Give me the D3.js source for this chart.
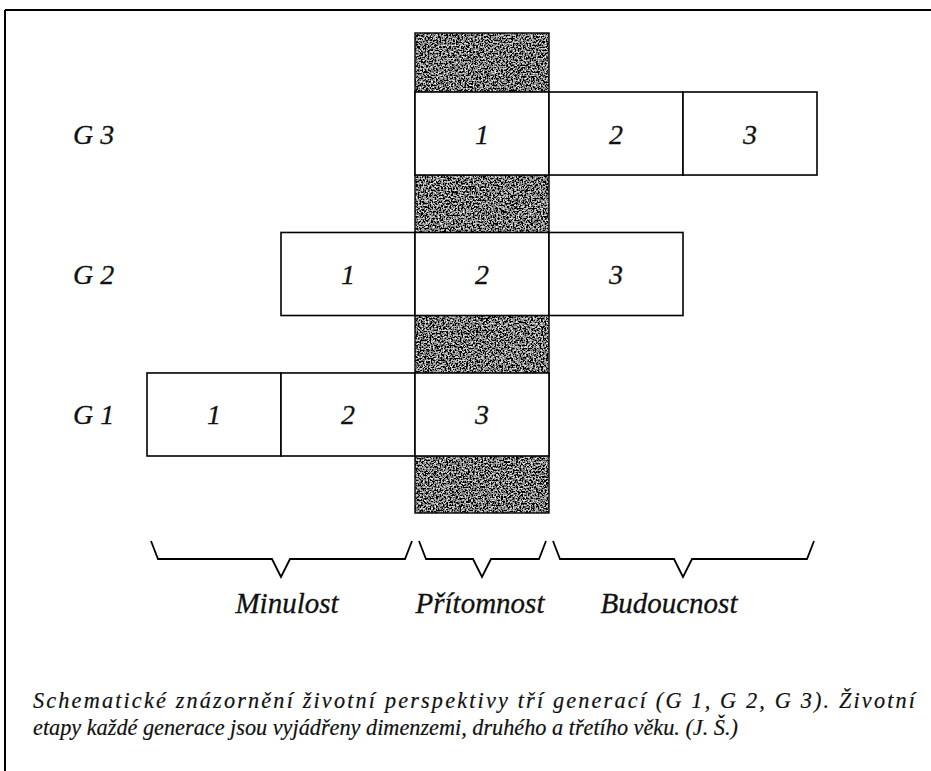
<!DOCTYPE html>
<html><head><meta charset="utf-8">
<script src="https://cdn.jsdelivr.net/npm/d3@7"></script>
<style>
html,body{margin:0;padding:0;background:#fff;}
svg{display:block;}
</style></head>
<body>
<script>
// ---- data ----
const generations = ["G 1", "G 2", "G 3"];          // bottom to top
const startColumn = [0, 1, 2];                        // column where stage 1 begins
const stageLabels = ["1", "2", "3"];
const periods = ["Minulost", "Přítomnost", "Budoucnost"];
const periodStart = [0, 2, 3];
const periodEnd = [2, 3, 5];
const presentColumn = 2;
const captionLines = [
  "Schematické znázornění životní perspektivy tří generací (G 1, G 2, G 3). Životní",
  "etapy každé generace jsou vyjádřeny dimenzemi, druhého a třetího věku. (J. Š.)"
];

const FONT = "Liberation Serif";
const W = 931, H = 771;
const svg = d3.select("body").append("svg").attr("width", W).attr("height", H);

const defs = svg.append("defs");
const f = defs.append("filter").attr("id", "grain").attr("x", 0).attr("y", 0).attr("width", 1).attr("height", 1);
f.append("feTurbulence").attr("type", "fractalNoise").attr("baseFrequency", 0.6).attr("numOctaves", 3).attr("seed", 5).attr("result", "n");
f.append("feColorMatrix").attr("in", "n").attr("type", "matrix")
  .attr("values", "2.5 0 0 0 -1.05  2.5 0 0 0 -1.05  2.5 0 0 0 -1.05  0 0 0 0 1").attr("result", "g");
f.append("feComposite").attr("in", "g").attr("in2", "SourceGraphic").attr("operator", "in");

// scales
const x = d3.scaleLinear().domain([0, 5]).range([147, 817]);
const y = d3.scaleBand().domain(["G 3", "G 2", "G 1"]).range([92, 456]).paddingInner(0.409).paddingOuter(0);
const rowH = y.bandwidth();

// frame
svg.append("line").attr("x1", 5).attr("x2", W).attr("y1", 10).attr("y2", 10).attr("stroke", "#000").attr("stroke-width", 2);
svg.append("line").attr("x1", 5).attr("x2", 5).attr("y1", 10).attr("y2", H).attr("stroke", "#000").attr("stroke-width", 2);

// present (gray) column
const gTop = 33, gBot = 513;
svg.append("rect").attr("x", x(presentColumn)).attr("y", gTop)
  .attr("width", x(presentColumn + 1) - x(presentColumn)).attr("height", gBot - gTop)
  .attr("fill", "#555").attr("filter", "url(#grain)");
svg.append("rect").attr("x", x(presentColumn)).attr("y", gTop)
  .attr("width", x(presentColumn + 1) - x(presentColumn)).attr("height", gBot - gTop)
  .attr("fill", "none").attr("stroke", "#111").attr("stroke-width", 1.5);

// generation rows
const cells = [];
generations.forEach((g, gi) => {
  stageLabels.forEach((s, si) => cells.push({ g, s, col: startColumn[gi] + si }));
});

svg.selectAll("rect.cell").data(cells).join("rect").attr("class", "cell")
  .attr("x", d => x(d.col)).attr("y", d => y(d.g))
  .attr("width", d => x(d.col + 1) - x(d.col)).attr("height", rowH)
  .attr("fill", "#fff").attr("stroke", "#000").attr("stroke-width", 1.6);

function styleText(sel, size) {
  sel.attr("font-family", FONT).attr("font-style", "italic").attr("font-size", size)
    .attr("fill", "#111").attr("stroke", "#111").attr("stroke-width", 0.3);
}

svg.selectAll("text.num").data(cells).join("text").attr("class", "num")
  .attr("x", d => (x(d.col) + x(d.col + 1)) / 2).attr("y", d => y(d.g) + rowH / 2 + 10)
  .attr("text-anchor", "middle").call(styleText, 28).text(d => d.s);

svg.selectAll("text.gen").data(generations).join("text").attr("class", "gen")
  .attr("x", 73).attr("y", d => y(d) + rowH / 2 + 10)
  .call(styleText, 28).text(d => d);

// braces
const bTop = 541, bMid = 559, bTip = 577;
periods.forEach((p, i) => {
  const x0 = x(periodStart[i]), x1 = x(periodEnd[i]);
  const m = (x0 + x1) / 2;
  const path = d3.path();
  path.moveTo(x0 + 4, bTop);
  path.lineTo(x0 + 11, bMid);
  path.lineTo(m - 9, bMid);
  path.lineTo(m, bTip);
  path.lineTo(m + 9, bMid);
  path.lineTo(x1 - 10, bMid);
  path.lineTo(x1 - 3, bTop);
  svg.append("path").attr("d", path.toString()).attr("fill", "none")
    .attr("stroke", "#000").attr("stroke-width", 1.8).attr("stroke-linejoin", "miter");
});
const labelX = [287, 480, 669];
svg.selectAll("text.period").data(periods).join("text").attr("class", "period")
  .attr("x", (d, i) => labelX[i]).attr("y", 613).attr("text-anchor", "middle")
  .call(styleText, 29).text(d => d);

// caption: size fitted to the second line's measured width, first line spaced to its width
const capWidths = [882, 705];
const caps = svg.selectAll("text.cap").data(captionLines).join("text").attr("class", "cap")
  .attr("x", 33).attr("y", (d, i) => 708 + i * 27)
  .call(styleText, 20).attr("stroke-width", 0.2)
  .text(d => d);
const natural2 = caps.nodes()[1].getComputedTextLength();
const capSize = 20 * capWidths[1] / natural2;
caps.attr("font-size", capSize);
caps.filter((d, i) => i === 0)
  .attr("textLength", capWidths[0]).attr("lengthAdjust", "spacing");
</script>
</body></html>
